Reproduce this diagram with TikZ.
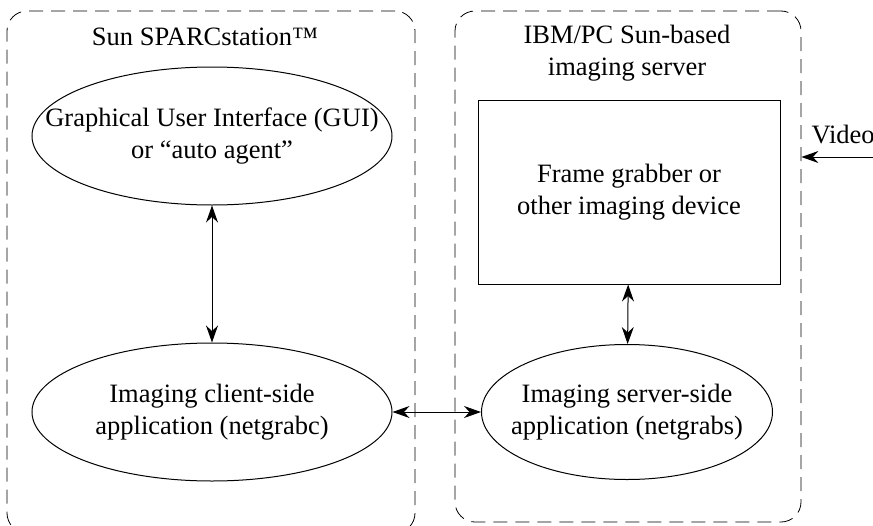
\documentclass[tikz,border=0pt]{standalone}
\usepackage{fontspec}
\setmainfont{Liberation Serif}
\usetikzlibrary{shapes.geometric,arrows.meta,positioning}

\begin{document}
\begin{tikzpicture}[x=1pt,y=-1pt,on grid,
	every node/.style={font=\fontsize{26.5}{32}\selectfont, align=center},
	host/.style={draw, line width=0.8pt, dash pattern=on 14pt off 8pt, rounded corners=20pt, inner sep=0pt},
	proc/.style={draw, ellipse, line width=1pt, minimum width=360pt, minimum height=138pt, inner xsep=-80pt, inner ysep=0pt},
	dev/.style={draw, rectangle, line width=1pt, minimum width=302pt, minimum height=184pt, inner sep=0pt},
	link/.style={line width=1pt, {Stealth[length=17pt,width=12pt]}-{Stealth[length=17pt,width=12pt]}},
	feed/.style={line width=1pt, -{Stealth[length=17pt,width=12pt]}}]
\useasboundingbox (0,0) rectangle (873,525);

% the two machines
\node[host, minimum width=408pt, minimum height=522pt]	(sun)		at (211,272)	{};
\node[host, minimum width=346pt, minimum height=511pt]	(ibm)		at (628,266.5)	{};
\node													(sun_t)		at (205,37)		{Sun SPARCstation™};
\node													(ibm_t)		at (627,53)		{IBM/PC Sun-based\\imaging server};

% processes
\node[proc]				(gui)									at (212,136)	{Graphical User Interface (GUI)\\or ``auto agent''};
\node[proc]				(client)	[below=276pt of gui]						{Imaging client-side\\application (netgrabc)};
\node[proc, minimum width=291pt, minimum height=135pt]
						(server)	[right=415pt of client]						{Imaging server-side\\application (netgrabs)};
\node[dev]				(grabber)								at (629,192)	{Frame grabber or\\other imaging device};

% video input
\coordinate				(vid_in)								at (880,157);
\node[anchor=west]		(vid_t)									at (808,135)	{Video};

\path[link]
(gui)		edge		(client)
(client)	edge		(server)
(grabber)	edge		(server)
;
\draw[feed] (vid_in) -- (vid_in -| ibm.east);
\end{tikzpicture}
\end{document}
